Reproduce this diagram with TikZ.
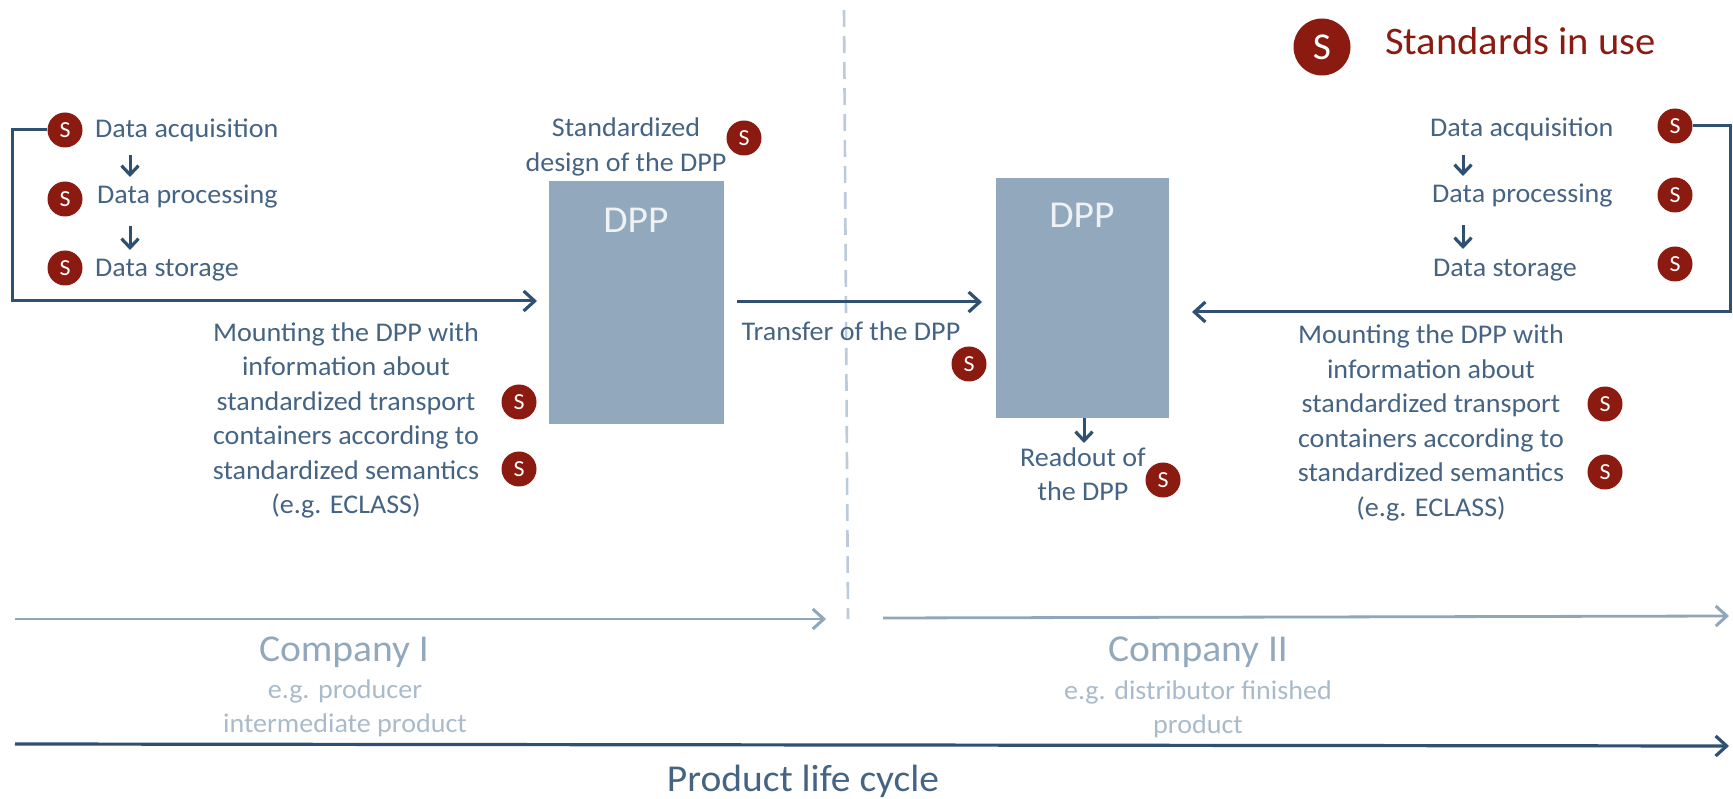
\documentclass[tikz,border=0pt]{standalone}
\usepackage{fontspec}
\setmainfont{Carlito}[FakeStretch=1.04]
\usetikzlibrary{arrows.meta}
\definecolor{txtc}{HTML}{456483}
\definecolor{arrc}{HTML}{2F5070}
\definecolor{redc}{HTML}{8B1A10}
\definecolor{boxc}{HTML}{92A8BD}
\definecolor{lightc}{HTML}{A9BBCB}
\definecolor{compc}{HTML}{90A6BB}
\definecolor{dashc}{HTML}{BCCBDC}
\tikzset{
  x=1pt,y=-1pt,
  lab/.style={text=txtc,font=\fontsize{27}{34.5}\selectfont,align=center,inner sep=0pt,yshift=-2pt},
  labl/.style={lab,anchor=west},
  sbadge/.style={circle,fill=redc,text=white,minimum size=35pt,inner sep=0pt,font=\fontsize{23}{23}\selectfont},
  sbig/.style={sbadge,minimum size=57pt,font=\fontsize{38}{38}\selectfont},
  dppbox/.style={fill=boxc,inner sep=0pt,anchor=north west},
  dpplab/.style={text=white!85!boxc,font=\fontsize{38}{38}\selectfont,inner sep=0pt,yshift=-1pt},
  comp/.style={text=boxc,font=\fontsize{38}{38}\selectfont,inner sep=0pt,yshift=-3pt},
  compsub/.style={text=lightc,font=\fontsize{27}{34}\selectfont,align=center,inner sep=0pt,yshift=-2pt},
  conn/.style={draw=arrc,line width=3pt,-{Straight Barb[length=11pt,width=20pt,line width=3.2pt]}},
  small/.style={draw=arrc,line width=3pt,-{Straight Barb[length=9pt,width=17pt,line width=3.2pt]}},
  comparr/.style={draw=compc,line width=2.8pt,-{Straight Barb[length=11pt,width=20pt,line width=3pt]}},
  lifearr/.style={draw=arrc,line width=3.2pt,-{Straight Barb[length=11pt,width=20pt,line width=3.2pt]}},
  sep/.style={draw=dashc,line width=2.6pt,dash pattern=on 17pt off 9pt},
}
\begin{document}
\begin{tikzpicture}
\useasboundingbox (0,0) rectangle (1733,799);
% boxes
\node[dppbox,minimum width=175pt,minimum height=243pt] (boxL) at (549,181) {};
\node[dppbox,minimum width=173pt,minimum height=240pt] (boxR) at (996,178) {};
\node[dpplab] (dppL) at (636,219) {DPP};
\node[dpplab] (dppR) at (1082,214) {DPP};
% legend
\node[sbig] (legS) at (1322,47) {S};
\node[text=redc,font=\fontsize{39}{39}\selectfont,inner sep=0pt,anchor=west] (legT) at (1385,41) {Standards in use};
% left list
\node[sbadge] (sL1) at (65,130) {S};
\node[sbadge] (sL2) at (65,199) {S};
\node[sbadge] (sL3) at (65,268) {S};
\node[labl] (tL1) at (95,128) {Data acquisition};
\node[labl] (tL2) at (97,195) {Data processing};
\node[labl] (tL3) at (95,268) {Data storage};
\coordinate (a1s) at (130,155); \coordinate (a1e) at (130,177);
\coordinate (a2s) at (130,226); \coordinate (a2e) at (130,250);
\draw[small] (a1s) -- (a1e);
\draw[small] (a2s) -- (a2e);
\coordinate (loopL) at (12,301);
\coordinate (loopLt) at (537,301);
\draw[conn] (sL1.west) -- (12,130) -- (loopL) -- (loopLt);
% left texts
\node[lab] (stdT) at (626,145) {Standardized\\design of the DPP};
\node[sbadge] (sStd) at (744,138) {S};
\node[lab] (mntL) at (346,418.5) {Mounting the DPP with\\information about\\standardized transport\\containers according to\\standardized semantics\\(e.g. ECLASS)};
\node[sbadge] (sM1) at (519,402) {S};
\node[sbadge] (sM2) at (519,469) {S};
% separator
\coordinate (sepT) at (844,10); \coordinate (sepB) at (848,619);
\draw[sep] (sepT) -- (sepB);
% transfer
\coordinate (trS) at (737,302); \coordinate (trE) at (982,302);
\draw[conn] (trS) -- (trE);
\node[lab] (trT) at (851,329) {Transfer of the DPP};
\node[sbadge] (sTr) at (969,364) {S};
% readout
\coordinate (roE) at (1084,443);
\draw[small] (boxR.south -| roE) -- (roE);
\node[lab] (roT) at (1083,472) {Readout of\\the DPP};
\node[sbadge] (sRo) at (1163,480) {S};
% right list
\node[sbadge] (sR1) at (1675,126) {S};
\node[sbadge] (sR2) at (1675,195) {S};
\node[sbadge] (sR3) at (1675,264) {S};
\node[labl] (tR1) at (1430,127) {Data acquisition};
\node[labl] (tR2) at (1432,194) {Data processing};
\node[labl] (tR3) at (1433,268) {Data storage};
\coordinate (b1s) at (1463,155); \coordinate (b1e) at (1463,176);
\coordinate (b2s) at (1463,225); \coordinate (b2e) at (1463,249);
\draw[small] (b1s) -- (b1e);
\draw[small] (b2s) -- (b2e);
\coordinate (loopR) at (1730,312);
\coordinate (loopRt) at (1192,312);
\draw[conn] (sR1.east) -- (1730,126) -- (loopR) -- (loopRt);
\node[lab] (mntR) at (1431,421) {Mounting the DPP with\\information about\\standardized transport\\containers according to\\standardized semantics\\(e.g. ECLASS)};
\node[sbadge] (sM3) at (1605,404) {S};
\node[sbadge] (sM4) at (1605,472) {S};
% bottom
\coordinate (c1s) at (15,619); \coordinate (c1e) at (826,619);
\draw[comparr] (c1s) -- (c1e);
\coordinate (c2s) at (883,618); \coordinate (c2e) at (1729,616);
\draw[comparr] (c2s) -- (c2e);
\node[comp] (c1T) at (344,649) {Company I};
\node[compsub] (c1S) at (345,706) {e.g. producer\\intermediate product};
\node[comp] (c2T) at (1198,649) {Company II};
\node[compsub] (c2S) at (1198,707) {e.g. distributor finished\\product};
\coordinate (plS) at (15,744); \coordinate (plE) at (1729,746);
\draw[lifearr] (plS) -- (plE);
\node[text=txtc,font=\fontsize{38}{38}\selectfont,inner sep=0pt] (plT) at (803,781) {Product life cycle};
\end{tikzpicture}
\end{document}
